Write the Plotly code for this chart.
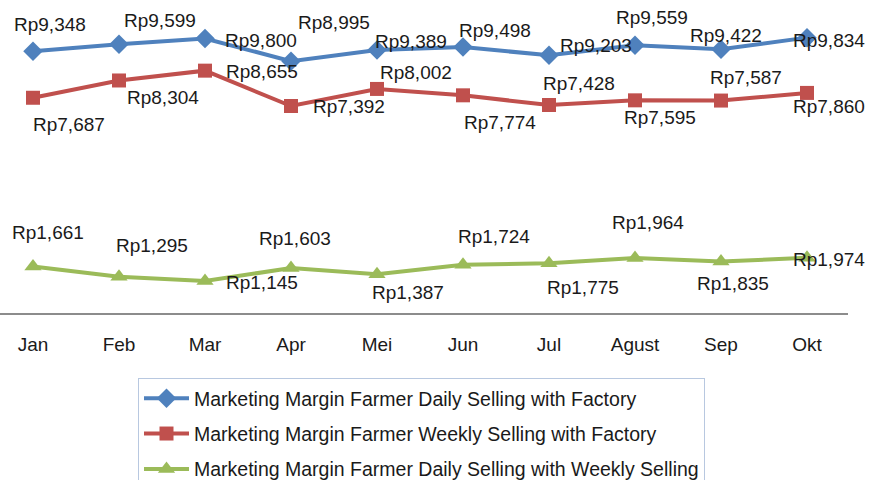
import plotly.graph_objects as go

months = ["Jan", "Feb", "Mar", "Apr", "Mei", "Jun", "Jul", "Agust", "Sep", "Okt"]
daily_factory = [9348, 9599, 9800, 8995, 9389, 9498, 9203, 9559, 9422, 9834]
weekly_factory = [7687, 8304, 8655, 7392, 8002, 7774, 7428, 7595, 7587, 7860]
daily_weekly = [1661, 1295, 1145, 1603, 1387, 1724, 1775, 1964, 1835, 1974]

names = [
    "Marketing Margin Farmer Daily Selling with Factory",
    "Marketing Margin Farmer Weekly Selling with Factory",
    "Marketing Margin Farmer Daily Selling with Weekly Selling",
]

# style config (label offsets in pixels: dx right, dy down)
colors = ["#4F81BD", "#C0504D", "#9BBB59"]
symbols = ["diamond", "square", "triangle-up"]
msizes = [15, 14, 15]
label_offsets = [
    [(17, -27), (41, -24), (56, 2), (43, -39), (34, -9), (32, -17), (47, -10), (17, -28), (5, -14), (22, 3)],
    [(36, 27), (44, 17), (57, 1), (58, 0), (39, -16), (37, 27), (30, -22), (25, 17), (25, -23), (22, 14)],
    [(15, -34), (33, -31), (57, 2), (4, -30), (31, 18), (31, -28), (34, 24), (13, -36), (12, 22), (22, 2)],
]

FONT = "Liberation Sans, Arial, sans-serif"
TXT = "#1a1a1a"
FS = 19

fig = go.Figure()
series = [daily_factory, weekly_factory, daily_weekly]
annotations = []
for i, vals in enumerate(series):
    fig.add_trace(go.Scatter(
        x=months, y=vals, name=names[i], mode="lines+markers",
        line=dict(color=colors[i], width=4),
        marker=dict(symbol=symbols[i], size=msizes[i], color=colors[i]),
        cliponaxis=False, legendgroup=f"g{i}",
    ))
    for j, v in enumerate(vals):
        dx, dy = label_offsets[i][j]
        annotations.append(dict(
            x=months[j], y=v, xref="x", yref="y", text=f"Rp{v:,}",
            showarrow=False, xshift=dx, yshift=-dy,
            font=dict(family=FONT, size=FS, color=TXT),
        ))

fig.update_layout(
    width=869, height=480,
    margin=dict(l=0, r=21, t=20, b=167, autoexpand=False),
    paper_bgcolor="white", plot_bgcolor="white",
    font=dict(family=FONT, size=FS, color=TXT),
    annotations=annotations,
    showlegend=True,
    legend=dict(
        x=138 / 848, y=(313 - 378) / 293, xanchor="left", yanchor="top",
        bordercolor="#b8c8e0", borderwidth=1, bgcolor="white",
        font=dict(family=FONT, size=19.5, color=TXT),
        traceorder="grouped", tracegroupgap=7, itemwidth=45,
    ),
    xaxis=dict(
        type="category", range=[-0.3837, 9.4767],
        showline=True, linecolor="#8c8c8c", linewidth=1.5,
        showgrid=False, zeroline=False,
        ticks="outside", ticklen=14, tickcolor="rgba(0,0,0,0)",
        tickfont=dict(family=FONT, size=FS, color=TXT),
    ),
    yaxis=dict(range=[0, 10464], visible=False),
)

fig.write_html(
    "out.html",
    config={"displayModeBar": False, "staticPlot": True},
    post_script="document.body.style.margin='0px';document.body.style.padding='0px';",
)
